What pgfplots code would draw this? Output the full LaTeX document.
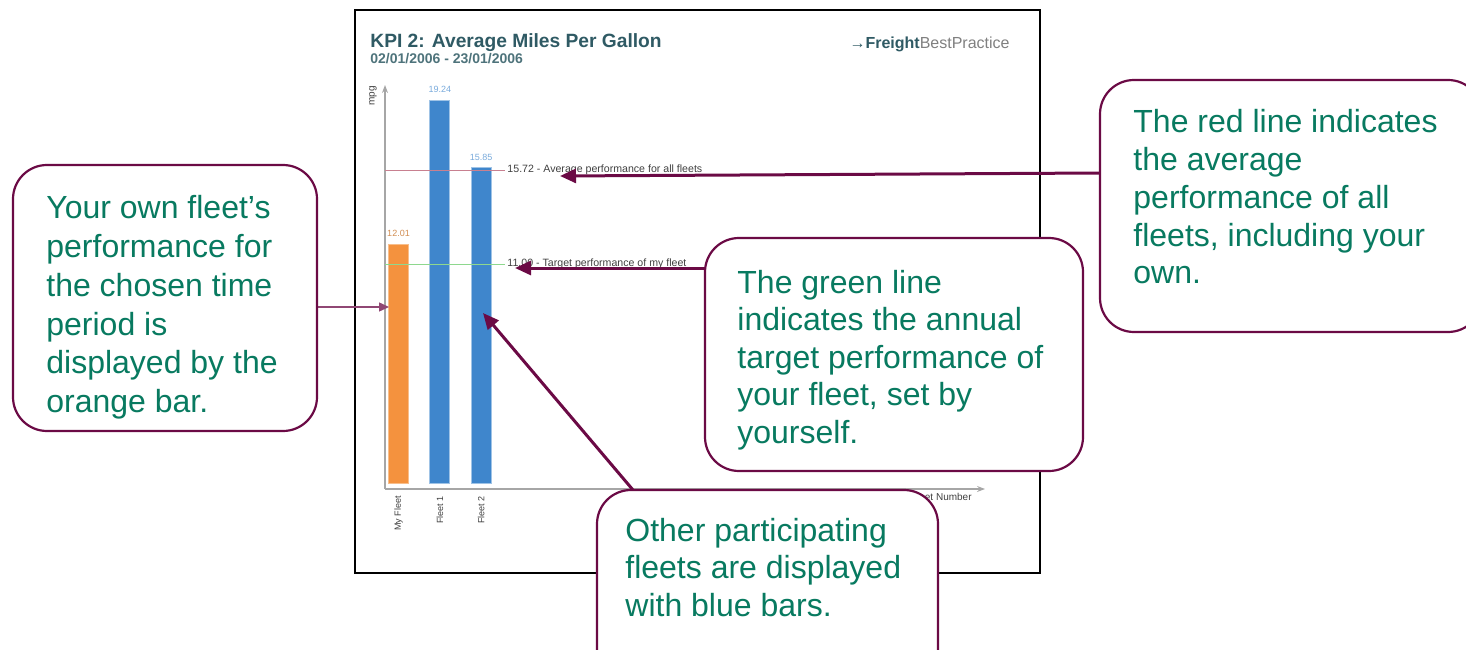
\documentclass[border=0pt]{standalone}
\usepackage{fontspec}
\setmainfont{Liberation Sans}
\usepackage{pgfplots}
\pgfplotsset{compat=1.18}
\usetikzlibrary{arrows.meta}
\definecolor{maroon}{HTML}{6B0A45}
\definecolor{txtgreen}{HTML}{087A60}
\definecolor{barorange}{HTML}{F4923E}
\definecolor{barblue}{HTML}{3F86CC}
\definecolor{titleteal}{HTML}{2F5A64}
\definecolor{refred}{HTML}{C88090}
\definecolor{refgreen}{HTML}{8ED88E}
\begin{document}
\begin{tikzpicture}[x=0.5pt,y=0.5pt,
  callout/.style={draw=maroon, fill=white, line width=1.1pt, rounded corners=17pt},
  ctext/.style={anchor=base west, inner sep=0, text=txtgreen, font=\fontsize{16}{19}\selectfont}]
\path[use as bounding box] (0,0) rectangle (1466,649);
% frame of the screenshot
\draw[line width=1pt] (355,639) rectangle (1040,76);
\node[anchor=base west, inner sep=0, text=titleteal, font=\bfseries\fontsize{9.6}{11}\selectfont] at (370,601) {KPI 2: Average Miles Per Gallon};
\node[anchor=base west, inner sep=0, text=titleteal!85, font=\bfseries\fontsize{7}{8}\selectfont] at (370,585) {02/01/2006 - 23/01/2006};
\node[anchor=base east, inner sep=0, text=titleteal, font=\fontsize{8}{9}\selectfont] at (1010,600) {\textbf{→Freight}{\color{gray}BestPractice}};
\begin{axis}[at={(192.5pt,80pt)}, anchor=south west,
  scale only axis, width=300pt, height=202pt,
  xmin=-0.327, xmax=14.2, ymin=-0.3, ymax=20,
  axis lines=left,
  axis line style={gray!70, line width=0.6pt, -{Stealth[length=4pt,width=3pt]}},
  xtick={0,1,2}, xticklabels={My Fleet, Fleet 1, Fleet 2},
  x tick label style={rotate=90, anchor=east, font=\fontsize{4.5}{5}\selectfont, text=darkgray},
  major tick length=0pt, ytick=\empty,
  bar width=10pt, clip=false,
  /pgf/number format/assume math mode=true,
  nodes near coords style={font=\fontsize{4.5}{5}\selectfont}]
\addplot[ybar, bar shift=0pt, fill=barorange, draw=barorange!60!white,
  nodes near coords={\pgfmathprintnumber[fixed,precision=2,fixed zerofill]{\pgfplotspointmeta}},
  every node near coord/.append style={text=barorange!70!gray}] coordinates {(0,12.01)};
\addplot[ybar, bar shift=0pt, fill=barblue, draw=barblue!50!white,
  nodes near coords={\pgfmathprintnumber[fixed,precision=2,fixed zerofill]{\pgfplotspointmeta}},
  every node near coord/.append style={text=barblue!70!white}] coordinates {(1,19.24) (2,15.85)};
\addplot[refred, line width=0.6pt, mark=none] coordinates {(-0.327,15.72) (2.58,15.72)};
\addplot[refgreen, line width=0.6pt, mark=none] coordinates {(-0.327,11) (2.58,11)};
\node[anchor=west, inner sep=1pt, text=darkgray, font=\fontsize{5.3}{6}\selectfont] at (axis cs:2.58,15.72) {15.72 - Average performance for all fleets};
\node[anchor=west, inner sep=1pt, text=darkgray, font=\fontsize{5.3}{6}\selectfont] at (axis cs:2.58,11) {11.00 - Target performance of my fleet};
\node[anchor=north east, inner sep=2pt, text=darkgray, font=\fontsize{5}{6}\selectfont] at (rel axis cs:0.985,0) {Fleet Number};
\end{axis}
\node[rotate=90, anchor=east, inner sep=0, text=darkgray, font=\fontsize{5}{6}\selectfont] at (373,563) {mpg};
% arrows
\draw[maroon!75, line width=0.7pt, -{Triangle[length=5pt,width=4.5pt]}] (317,342) -- (389,342);
\draw[maroon, line width=1.5pt, -{Triangle[length=8pt,width=7pt]}] (1100,476) -- (560,473);
\draw[maroon, line width=1.5pt, -{Triangle[length=8pt,width=7pt]}] (705,381) -- (515,381);
\draw[maroon, line width=1.5pt, -{Triangle[length=8pt,width=7pt]}] (633,159) -- (483,336);
% callout 1
\draw[callout] (13,484) rectangle (317,218);
\node[ctext] at (46,430) {Your own fleet’s};
\node[ctext] at (46,391.3) {performance for};
\node[ctext] at (46,352.6) {the chosen time};
\node[ctext] at (46,313.9) {period is};
\node[ctext] at (46,275.2) {displayed by the};
\node[ctext] at (46,236.5) {orange bar.};
% callout 2
\draw[callout] (1100,569) rectangle (1482,317);
\node[ctext] at (1133,516) {The red line indicates};
\node[ctext] at (1133,478.3) {the average};
\node[ctext] at (1133,440.6) {performance of all};
\node[ctext] at (1133,402.9) {fleets, including your};
\node[ctext] at (1133,365.2) {own.};
% callout 3
\draw[callout] (705,411) rectangle (1083,178);
\node[ctext] at (737,356) {The green line};
\node[ctext] at (737,318.5) {indicates the annual};
\node[ctext] at (737,281) {target performance of};
\node[ctext] at (737,243.5) {your fleet, set by};
\node[ctext] at (737,206) {yourself.};
% callout 4
\draw[callout] (597,159) rectangle (938,-40);
\node[ctext] at (625,108) {Other participating};
\node[ctext] at (625,70.5) {fleets are displayed};
\node[ctext] at (625,33) {with blue bars.};
\end{tikzpicture}
\end{document}
